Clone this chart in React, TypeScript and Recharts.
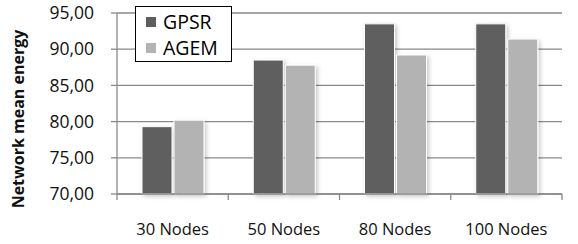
import React from "react";
import { BarChart, Bar, XAxis, YAxis, CartesianGrid, Legend } from "recharts";

const categories = ["30 Nodes", "50 Nodes", "80 Nodes", "100 Nodes"];
const gpsr = [79.3, 88.5, 93.5, 93.5];
const agem = [80.2, 87.8, 89.2, 91.4];
const yTicks = [70, 75, 80, 85, 90, 95];

const data = categories.map((c, i) => ({ name: c, GPSR: gpsr[i], AGEM: agem[i] }));

const W = 578;
const H = 244;
const M = { top: 13, right: 16, bottom: 0, left: 0 };
const Y_W = 117;
const X_H = 50;
const PLOT_W = W - M.left - M.right - Y_W;
const BAND = PLOT_W / categories.length;
const FONT = "'Open Sans', sans-serif";
const AXIS_COLOR = "#8a8a8a";

const XTick = (props: any) => {
  const { x, y, payload, index } = props;
  const half = BAND / 2;
  return (
    <g>
      <line x1={x - half} x2={x - half} y1={y} y2={y + 6} stroke={AXIS_COLOR} strokeWidth={1.3} />
      {index === categories.length - 1 && (
        <line x1={x + half} x2={x + half} y1={y} y2={y + 6} stroke={AXIS_COLOR} strokeWidth={1.3} />
      )}
      <text x={x} y={y + 41} textAnchor="middle" fontFamily={FONT} fontSize={16.5} fill="#111">
        {payload.value}
      </text>
    </g>
  );
};

const LegendContent = () => (
  <div
    style={{
      border: "1.3px solid #000",
      background: "#fff",
      width: 97,
      height: 56,
      boxSizing: "border-box",
      fontFamily: FONT,
      fontSize: 19.5,
      color: "#000",
      paddingLeft: 10,
      paddingTop: 2,
    }}
  >
    {[
      { name: "GPSR", color: "#5e5e5e" },
      { name: "AGEM", color: "#b3b3b3" },
    ].map((it) => (
      <div key={it.name} style={{ display: "flex", alignItems: "center", height: 26, lineHeight: "26px" }}>
        <span style={{ display: "inline-block", width: 10, height: 10, background: it.color, marginRight: 7 }} />
        <span>{it.name}</span>
      </div>
    ))}
  </div>
);

const YLabel = () => {
  const cy = 119;
  const cx = 18;
  return (
    <text
      x={cx}
      y={cy}
      transform={`rotate(-90, ${cx}, ${cy})`}
      textAnchor="middle"
      dominantBaseline="central"
      fontFamily={FONT}
      fontSize={16}
      fontWeight={700}
      fill="#111"
    >
      Network mean energy
    </text>
  );
};

export default function App() {
  return (
    <div style={{ position: "absolute", left: 0, top: 0, background: "#fff" }}>
      <BarChart width={W} height={H} data={data} margin={M} barSize={30} barGap={2}>
        <defs>
          <filter id="shadow" x="-20%" y="-10%" width="150%" height="130%">
            <feDropShadow dx="2" dy="2" stdDeviation="2" floodColor="#000" floodOpacity="0.22" />
          </filter>
        </defs>
        <CartesianGrid vertical={false} stroke={AXIS_COLOR} strokeWidth={1.3} />
        <XAxis
          dataKey="name"
          height={X_H}
          tickLine={false}
          tickSize={0}
          tickMargin={0}
          axisLine={{ stroke: AXIS_COLOR, strokeWidth: 1.3 }}
          tick={<XTick />}
          interval={0}
        />
        <YAxis
          width={Y_W}
          domain={[70, 95]}
          ticks={yTicks}
          interval={0}
          tickSize={6}
          tickMargin={17}
          tickLine={{ stroke: AXIS_COLOR, strokeWidth: 1.3 }}
          axisLine={{ stroke: AXIS_COLOR, strokeWidth: 1.3 }}
          tickFormatter={(v: number) => v.toFixed(2).replace(".", ",")}
          tick={{ fontFamily: FONT, fontSize: 17.5, fill: "#111" }}
          label={<YLabel />}
        />
        <Legend
          verticalAlign="middle"
          align="center"
          layout="vertical"
          wrapperStyle={{ left: 135, top: 6, width: 97 }}
          content={<LegendContent />}
        />
        <Bar dataKey="GPSR" fill="#5e5e5e" stroke="#fff" strokeWidth={1} filter="url(#shadow)" isAnimationActive={false} />
        <Bar dataKey="AGEM" fill="#b3b3b3" stroke="#fff" strokeWidth={1} filter="url(#shadow)" isAnimationActive={false} />
      </BarChart>
    </div>
  );
}
